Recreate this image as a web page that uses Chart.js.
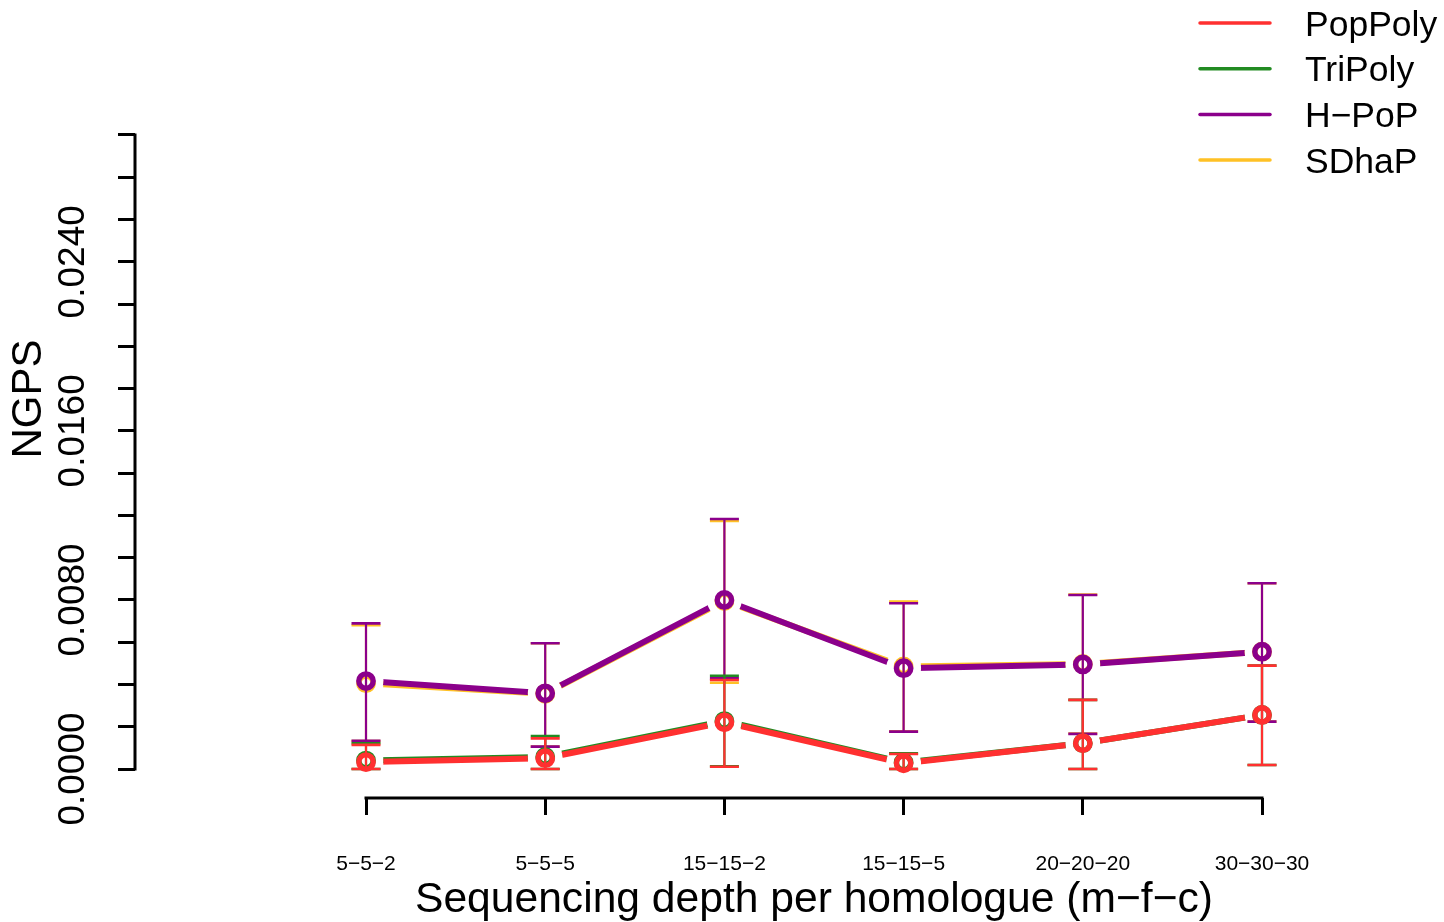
<!DOCTYPE html>
<html>
<head>
<meta charset="utf-8">
<script src="https://cdn.jsdelivr.net/npm/chart.js@4/dist/chart.umd.min.js"></script>
<style>
  html, body { margin: 0; padding: 0; background: #ffffff; }
  #c { display: block; }
</style>
</head>
<body>
<canvas id="c" width="1444" height="922"></canvas>
<script>
// ---------- data ----------
const categories = ['5\u22125\u22122', '5\u22125\u22125', '15\u221215\u22122', '15\u221215\u22125', '20\u221220\u221220', '30\u221230\u221230'];
const seriesNames = ['PopPoly', 'TriPoly', 'H\u2212PoP', 'SDhaP'];
const seriesColors = ['#FF3030', '#228B22', '#8B008B', '#FFC125'];

const popPolyMean  = [0.00033, 0.00051, 0.00221, 0.00027, 0.00122, 0.00256];
const popPolyHigh  = [0.00114, 0.00145, 0.00421, 0.00071, 0.00327, 0.00489];
const popPolyLow   = [0.00000, 0.00000, 0.00011, 0.00000, 0.00000, 0.00019];

const triPolyMean  = [0.00040, 0.00057, 0.00227, 0.00031, 0.00122, 0.00256];
const triPolyHigh  = [0.00122, 0.00156, 0.00441, 0.00074, 0.00327, 0.00489];
const triPolyLow   = [0.00000, 0.00000, 0.00013, 0.00000, 0.00000, 0.00019];

const hPopMean     = [0.00416, 0.00358, 0.00800, 0.00477, 0.00495, 0.00555];
const hPopHigh     = [0.00689, 0.00595, 0.01183, 0.00784, 0.00823, 0.00879];
const hPopLow      = [0.00134, 0.00106, 0.00429, 0.00177, 0.00166, 0.00224];

const sdhapMean    = [0.00406, 0.00356, 0.00795, 0.00485, 0.00497, 0.00555];
const sdhapHigh    = [0.00680, 0.00595, 0.01174, 0.00792, 0.00825, 0.00879];
const sdhapLow     = [0.00132, 0.00106, 0.00408, 0.00178, 0.00168, 0.00224];

const yTickValues  = [0, 0.002, 0.004, 0.006, 0.008, 0.010, 0.012, 0.014, 0.016, 0.018, 0.020, 0.022, 0.024, 0.026, 0.028, 0.030];
const yLabelValues = [0, 0.008, 0.016, 0.024];
const yLabelTexts  = ['0.0000', '0.0080', '0.0160', '0.0240'];

const xTitle = 'Sequencing depth per homologue (m\u2212f\u2212c)';
const yTitle = 'NGPS';

// ---------- helpers ----------
const FONT = "'Liberation Sans', Arial, Helvetica, sans-serif";
const means = [popPolyMean, triPolyMean, hPopMean, sdhapMean];
const highs = [popPolyHigh, triPolyHigh, hPopHigh, sdhapHigh];
const lows  = [popPolyLow, triPolyLow, hPopLow, sdhapLow];
const GAP = 17.5;

function toPoints(arr) { return arr.map((v, i) => ({ x: i, y: v })); }

const datasets = seriesNames.map((name, k) => ({
  label: name,
  data: toPoints(means[k]),
  borderColor: seriesColors[k],
  backgroundColor: 'rgba(0,0,0,0)',
  borderWidth: 6,
  borderCapStyle: 'round',
  borderJoinStyle: 'round',
  pointRadius: 7.2,
  pointBorderWidth: 5.4,
  pointBorderColor: seriesColors[k],
  pointBackgroundColor: 'rgba(0,0,0,0)',
  pointHoverRadius: 7.2,
  tension: 0,
  clip: false
}));

const rPlugin = {
  id: 'rStyle',
  beforeDatasetDraw(chart, args) {
    // R type="b": leave a gap in the line around each point
    const ctx = chart.ctx;
    ctx.save();
    const region = new Path2D();
    region.rect(0, 0, chart.width, chart.height);
    args.meta.data.forEach(p => {
      region.moveTo(p.x + GAP, p.y);
      region.arc(p.x, p.y, GAP, 0, Math.PI * 2, true);
    });
    ctx.clip(region, 'evenodd');
  },
  afterDatasetDraw(chart, args) {
    const ctx = chart.ctx;
    ctx.restore();
    const k = args.index;
    args.meta.data.forEach(p => p.draw(ctx, chart.chartArea));
    const ys = chart.scales.y;
    const col = seriesColors[k];
    ctx.save();
    ctx.strokeStyle = col;
    ctx.lineCap = 'butt';
    args.meta.data.forEach((p, i) => {
      const yh = ys.getPixelForValue(highs[k][i]);
      const yl = ys.getPixelForValue(lows[k][i]);
      ctx.lineWidth = 2.2;
      ctx.beginPath(); ctx.moveTo(p.x, yh); ctx.lineTo(p.x, yl); ctx.stroke();
      ctx.lineWidth = 2.6;
      ctx.beginPath();
      ctx.moveTo(p.x - 14.5, yh); ctx.lineTo(p.x + 14.5, yh);
      ctx.moveTo(p.x - 14.5, yl); ctx.lineTo(p.x + 14.5, yl);
      ctx.stroke();
    });
    ctx.restore();
  },
  afterDraw(chart) {
    const ctx = chart.ctx;
    const xs = chart.scales.x, ys = chart.scales.y;
    ctx.save();
    // axis lines (R style: from first to last tick)
    ctx.strokeStyle = '#000';
    ctx.lineWidth = 3;
    ctx.lineCap = 'butt';
    const ax = chart.chartArea.left;
    ctx.beginPath();
    ctx.moveTo(ax, ys.getPixelForValue(yTickValues[0]) + 1.5);
    ctx.lineTo(ax, ys.getPixelForValue(yTickValues[yTickValues.length - 1]) - 1.5);
    ctx.stroke();
    const by = chart.chartArea.bottom;
    ctx.beginPath();
    ctx.moveTo(xs.getPixelForValue(0) - 1.5, by);
    ctx.lineTo(xs.getPixelForValue(categories.length - 1) + 1.5, by);
    ctx.stroke();
    // x title
    ctx.fillStyle = '#000';
    ctx.font = '42.6px ' + FONT;
    ctx.textAlign = 'center';
    ctx.textBaseline = 'alphabetic';
    const cx = (xs.getPixelForValue(0) + xs.getPixelForValue(categories.length - 1)) / 2;
    ctx.fillText(xTitle, cx, 912);
    // legend
    ctx.font = '35.5px ' + FONT;
    ctx.textAlign = 'left';
    chart.data.datasets.forEach((ds, i) => {
      const ly = 23 + i * 45.7;
      ctx.strokeStyle = seriesColors[i];
      ctx.lineWidth = 3.5;
      ctx.lineCap = 'round';
      ctx.beginPath(); ctx.moveTo(1200, ly); ctx.lineTo(1270, ly); ctx.stroke();
      ctx.fillStyle = '#000';
      ctx.fillText(ds.label, 1305, ly + 12.6);
    });
    ctx.restore();
  }
};

// pixel mapping: category 0 -> x=366, category 5 -> x=1262 ; value 0 -> y=769, 0.002 per 42.27px
const PX_PER_CAT = (1262 - 366) / 5;
const PX_PER_UNIT = 42.267 / 0.002;

function noPad(s) { s.paddingTop = 0; s.paddingBottom = 0; s.paddingLeft = 0; s.paddingRight = 0; }

new Chart(document.getElementById('c'), {
  type: 'line',
  data: { datasets },
  options: {
    responsive: false,
    animation: false,
    devicePixelRatio: 1,
    layout: { padding: 0, autoPadding: false },
    plugins: { legend: { display: false }, tooltip: { enabled: false } },
    scales: {
      x: {
        type: 'linear',
        min: (135 - 366) / PX_PER_CAT,
        max: (1444 - 366) / PX_PER_CAT,
        afterFit(s) { s.height = 922 - 798; noPad(s); },
        afterBuildTicks(s) { s.ticks = categories.map((c, i) => ({ value: i })); },
        border: { display: false },
        grid: { display: true, drawOnChartArea: false, drawTicks: true, tickLength: 17, tickWidth: 3, tickColor: '#000', color: '#000', lineWidth: 3 },
        ticks: {
          autoSkip: false,
          maxRotation: 0,
          padding: 37,
          color: '#000',
          font: { family: FONT, size: 21 },
          callback: (v) => categories[Math.round(v)]
        }
      },
      y: {
        type: 'linear',
        min: -29 / PX_PER_UNIT,
        max: 769 / PX_PER_UNIT,
        afterFit(s) { s.width = 135; noPad(s); },
        afterBuildTicks(s) { s.ticks = yTickValues.map(v => ({ value: v })); },
        border: { display: false },
        grid: { display: true, drawOnChartArea: false, drawTicks: true, tickLength: 17, tickWidth: 3, tickColor: '#000', color: '#000', lineWidth: 3 },
        ticks: {
          autoSkip: false,
          minRotation: 90,
          maxRotation: 90,
          crossAlign: 'center',
          padding: -12,
          color: '#000',
          font: { family: FONT, size: 37 },
          callback: (v) => {
            const j = yLabelValues.findIndex(t => Math.abs(t - v) < 1e-9);
            return j >= 0 ? yLabelTexts[j] : '';
          }
        },
        title: {
          display: true,
          text: yTitle,
          color: '#000',
          font: { family: FONT, size: 42, lineHeight: 1.2 },
          padding: { top: 4, bottom: 0 }
        }
      }
    }
  },
  plugins: [rPlugin]
});
</script>
</body>
</html>
